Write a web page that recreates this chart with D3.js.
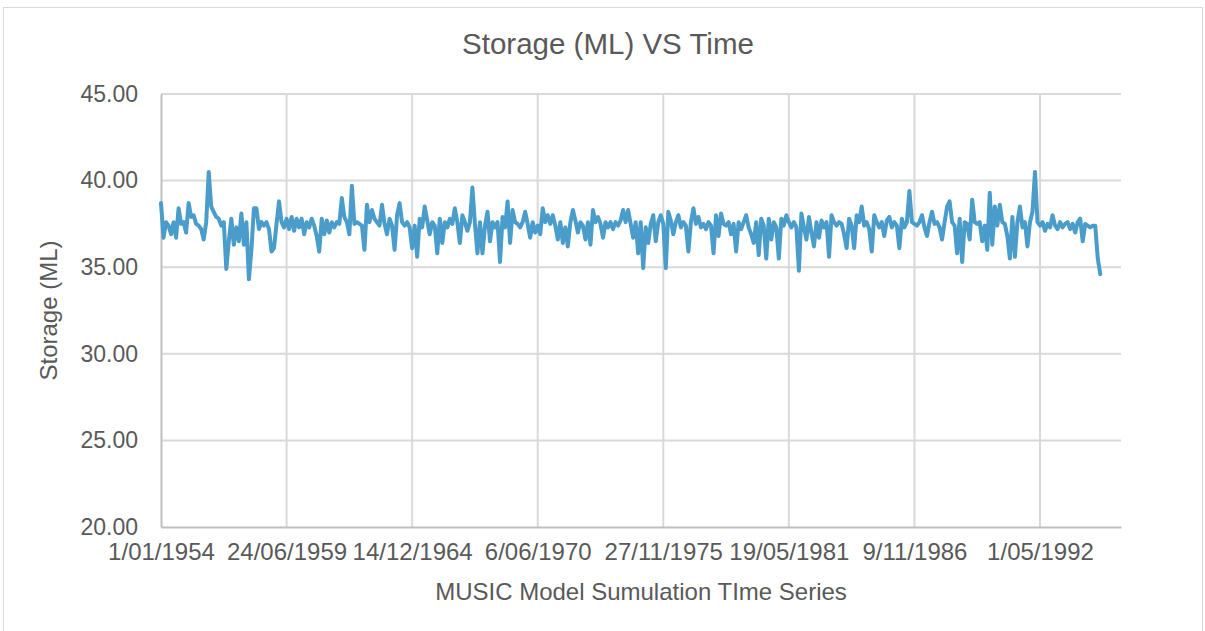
<!DOCTYPE html>
<html>
<head>
<meta charset="utf-8">
<script src="https://cdnjs.cloudflare.com/ajax/libs/d3/7.8.5/d3.min.js"></script>
<style>
  body { margin: 0; background: #fff; }
  text { font-family: "Liberation Sans", Arial, sans-serif; fill: #595959; }
</style>
</head>
<body>
<div id="chart"></div>
<script>
// Series: one storage value every 40 days from 1/01/1954
var startDate = "1954-01-01";
var stepDays = 40;
var storage = [
  38.7, 36.7, 37.6, 37.4, 36.9, 37.6, 36.7, 38.4, 37.5, 37.6,
  37.0, 38.7, 37.9, 38.0, 37.5, 37.4, 37.2, 36.6, 37.6, 40.5,
  38.5, 38.2, 37.9, 37.8, 37.4, 37.6, 34.9, 36.5, 37.8, 36.3,
  37.3, 36.5, 38.1, 36.3, 37.6, 34.3, 36.0, 38.4, 38.4, 37.2,
  37.6, 37.4, 37.6, 37.2, 35.9, 36.1, 37.5, 38.8, 37.6, 37.3,

  37.8, 37.2, 37.9, 37.1, 37.8, 37.3, 37.8, 36.9, 37.6, 37.3,
  37.8, 37.4, 36.8, 35.9, 37.8, 36.9, 37.7, 37.0, 37.6, 37.3,
  37.6, 37.5, 39.0, 37.9, 37.6, 36.9, 39.7, 37.5, 37.6, 37.5,
  37.4, 36.0, 38.6, 37.6, 38.3, 37.8, 37.6, 37.4, 38.6, 37.5,
  36.9, 37.8, 37.4, 36.0, 38.0, 38.7, 37.6, 37.4, 37.6, 37.3,

  36.1, 37.4, 35.6, 37.8, 37.3, 38.5, 37.7, 36.9, 37.6, 37.4,
  35.8, 37.8, 36.4, 37.6, 37.3, 37.8, 37.5, 38.4, 37.6, 36.4,
  38.0, 37.6, 37.1, 37.6, 39.6, 37.5, 35.8, 37.6, 35.8, 37.4,
  38.2, 36.5, 37.6, 37.3, 37.6, 35.3, 37.9, 37.3, 38.8, 36.4,
  38.3, 37.6, 37.5, 37.3, 37.6, 38.2, 37.5, 36.7, 37.6, 37.0,

  37.4, 36.9, 38.4, 37.6, 38.0, 37.5, 38.0, 37.4, 36.6, 37.6,
  36.4, 37.3, 36.2, 37.6, 38.3, 37.7, 37.0, 37.6, 37.4, 36.6,
  37.6, 36.3, 38.3, 37.6, 37.9, 37.5, 36.7, 37.6, 37.3, 37.6,
  37.2, 37.6, 37.4, 37.7, 38.3, 37.6, 38.3, 37.5, 36.7, 37.6,
  35.8, 37.6, 34.95, 37.3, 36.4, 37.5, 38.0, 36.5, 37.6, 38.0,

  37.5, 34.95, 38.2, 37.7, 36.9, 37.6, 38.0, 37.3, 37.6, 37.4,
  35.9, 37.6, 38.4, 37.5, 37.9, 37.3, 37.5, 37.2, 37.6, 37.4,
  35.8, 38.0, 36.8, 38.1, 37.5, 37.4, 37.6, 36.9, 37.5, 35.9,
  37.6, 37.2, 37.6, 38.0, 37.3, 36.9, 36.4, 37.6, 35.7, 37.8,
  37.4, 35.5, 37.8, 36.6, 37.6, 37.3, 35.5, 37.8, 37.4, 38.0,

  37.6, 37.3, 37.6, 37.3, 34.8, 38.1, 37.3, 36.6, 37.9, 37.0,
  36.2, 37.6, 36.7, 37.7, 37.3, 37.6, 35.6, 38.0, 37.6, 37.4,
  37.6, 37.5, 36.9, 36.1, 37.8, 37.4, 36.1, 38.0, 37.6, 38.5,
  37.4, 37.6, 37.2, 35.9, 38.0, 37.6, 37.3, 37.6, 36.8, 37.7,
  37.9, 37.3, 37.6, 37.4, 36.1, 37.8, 37.3, 37.6, 39.4, 37.6,

  37.5, 37.4, 37.6, 38.0, 37.3, 36.8, 37.6, 38.2, 37.5, 37.6,
  37.3, 36.6, 37.6, 38.5, 38.8, 37.6, 37.4, 35.8, 37.8, 35.3,
  37.6, 37.5, 36.6, 38.9, 37.6, 37.5, 37.6, 36.5, 37.4, 36.0,
  39.3, 36.3, 38.5, 37.4, 38.6, 37.6, 37.5, 36.8, 35.5, 37.9,
  35.6, 37.6, 38.5, 37.3, 37.6, 36.2, 37.6, 38.2, 40.5, 37.6,

  37.4, 37.6, 37.1, 37.5, 37.3, 38.0, 37.4, 37.2, 37.6, 37.3,
  37.5, 37.6, 37.2, 37.5, 37.0, 37.6, 37.8, 36.5, 37.5, 37.4,
  37.3, 37.4, 37.4, 35.5, 34.6
];

// Axis ticks
var yTicks = [20, 25, 30, 35, 40, 45];
var xTickLabels = ["1/01/1954", "24/06/1959", "14/12/1964", "6/06/1970",
                   "27/11/1975", "19/05/1981", "9/11/1986", "1/05/1992"];
var xTickStepDays = 2000;
var xEndDays = 15290;

var chartTitle = "Storage (ML) VS Time";
var yTitle = "Storage (ML)";
var xTitle = "MUSIC Model Sumulation TIme Series";

var width = 1205,
    height = 631,
    plotLeft = 161,
    plotRight = 1121,
    plotTop = 94,
    plotBottom = 527;

var t0 = new Date(startDate + "T00:00:00Z");
var data = storage.map(function(v, i) {
  return { date: d3.utcDay.offset(t0, i * stepDays), value: v };
});
var tickDates = xTickLabels.map(function(d, i) {
  return d3.utcDay.offset(t0, i * xTickStepDays);
});

var xScale = d3.scaleUtc()
    .domain([t0, d3.utcDay.offset(t0, xEndDays)])
    .range([plotLeft, plotRight]);

var yScale = d3.scaleLinear()
    .domain([20, 45])
    .range([plotBottom, plotTop]);

var svg = d3.select("#chart").append("svg")
    .attr("width", width)
    .attr("height", height);

// outer chart border
svg.append("rect")
    .attr("x", 3.5)
    .attr("y", 7.5)
    .attr("width", 1199)
    .attr("height", 632)
    .attr("fill", "#fff")
    .attr("stroke", "#d9d9d9")
    .attr("stroke-width", 1);

// horizontal gridlines
svg.append("g")
    .selectAll("line")
    .data(yTicks.slice(1))
    .enter()
    .append("line")
    .attr("x1", plotLeft)
    .attr("x2", plotRight)
    .attr("y1", function(d) { return yScale(d); })
    .attr("y2", function(d) { return yScale(d); })
    .attr("stroke", "#d9d9d9")
    .attr("stroke-width", 2);

// vertical gridlines
svg.append("g")
    .selectAll("line")
    .data(tickDates.slice(1))
    .enter()
    .append("line")
    .attr("x1", function(d) { return xScale(d); })
    .attr("x2", function(d) { return xScale(d); })
    .attr("y1", plotTop)
    .attr("y2", plotBottom)
    .attr("stroke", "#d9d9d9")
    .attr("stroke-width", 2);

// y axis
var yAxis = d3.axisLeft(yScale)
    .tickValues(yTicks)
    .tickFormat(d3.format(".2f"))
    .tickSize(0)
    .tickPadding(23);

var gy = svg.append("g")
    .attr("transform", "translate(" + plotLeft + ",0)")
    .call(yAxis);
gy.select(".domain").attr("stroke", "#bfbfbf").attr("stroke-width", 2);
gy.selectAll("text")
    .style("font-size", "23px")
    .attr("fill", "#595959");

// x axis
var xAxis = d3.axisBottom(xScale)
    .tickValues(tickDates)
    .tickFormat(function(d, i) { return xTickLabels[i]; })
    .tickSize(0)
    .tickPadding(16);

var gx = svg.append("g")
    .attr("transform", "translate(0," + plotBottom + ")")
    .call(xAxis);
gx.select(".domain").attr("stroke", "#bfbfbf").attr("stroke-width", 2);
gx.selectAll("text")
    .style("font-size", "24px")
    .attr("fill", "#595959");

// series line
var line = d3.line()
    .x(function(d) { return xScale(d.date); })
    .y(function(d) { return yScale(d.value); });

svg.append("path")
    .datum(data)
    .attr("d", line)
    .attr("fill", "none")
    .attr("stroke", "#4a9dcb")
    .attr("stroke-width", 4)
    .attr("stroke-linejoin", "round")
    .attr("stroke-linecap", "round");

// titles
svg.append("text")
    .attr("x", 608)
    .attr("y", 54)
    .attr("text-anchor", "middle")
    .style("font-size", "29.5px")
    .text(chartTitle);

svg.append("text")
    .attr("transform", "translate(57," + ((plotTop + plotBottom) / 2) + ") rotate(-90)")
    .attr("text-anchor", "middle")
    .style("font-size", "24px")
    .text(yTitle);

svg.append("text")
    .attr("x", (plotLeft + plotRight) / 2)
    .attr("y", 600)
    .attr("text-anchor", "middle")
    .style("font-size", "24px")
    .text(xTitle);
</script>
</body>
</html>
